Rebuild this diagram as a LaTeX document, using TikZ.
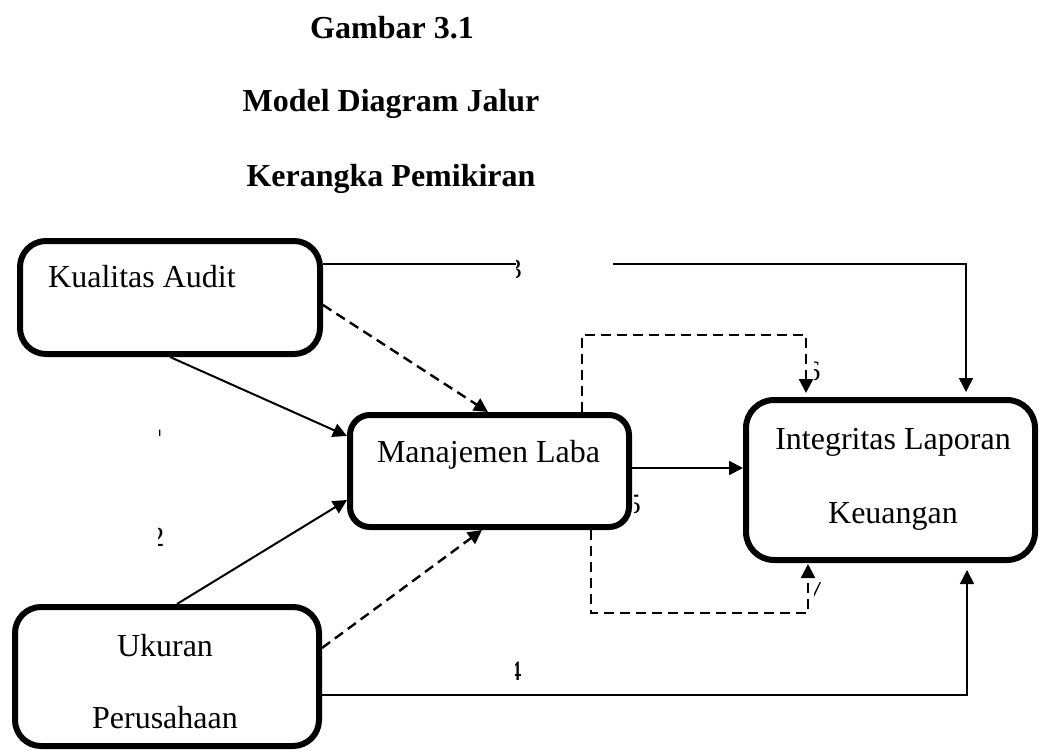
\documentclass[tikz,border=0pt]{standalone}
\usepackage{fontspec}
\setmainfont{Liberation Serif}
\usetikzlibrary{arrows.meta,calc}
\begin{document}
\begin{tikzpicture}[x=1pt,y=-1pt,
  box/.style={draw, line width=6pt, rounded corners=#1, inner sep=0pt},
  txt/.style={inner sep=0pt, font=\fontsize{32}{38}\selectfont},
  ttl/.style={inner sep=0pt, font=\fontsize{32}{38}\selectfont\bfseries},
  frag/.style={inner sep=0pt, font=\fontsize{28}{28}\selectfont},
  tip/.style={-{Triangle[length=14pt,width=14pt]}},
  conn/.style={tip, line width=2pt},
  lconn/.style={tip, line width=1.6pt, line join=miter},
  dconn/.style={tip, line width=2.4pt, dash pattern=on 10pt off 6pt, line join=miter},
  labbox/.style={fill=white, inner sep=0pt}]
\useasboundingbox (0,0) rectangle (1040,751);

% titles
\node[ttl, anchor=base] (t1) at (392,39) {Gambar 3.1};
\node[ttl, anchor=base] (t2) at (391,112) {Model Diagram Jalur};
\node[ttl, anchor=base] (t3) at (391,187) {Kerangka Pemikiran};

% boxes
\node[box=26pt, minimum width=300pt, minimum height=113pt] (kua) at (170,297.5) {};
\node[box=20pt, minimum width=279pt, minimum height=112pt] (man) at (489.5,471) {};
\node[box=28pt, minimum width=289pt, minimum height=160pt] (ilk) at (890.5,480) {};
\node[box=26pt, minimum width=304pt, minimum height=139pt] (uku) at (167,676.5) {};

% box texts
\node[txt, anchor=base west] (kuat) at (48,287) {Kualitas Audit};
\node[txt, anchor=base] (mant) at (488.5,462) {Manajemen Laba};
\node[txt, anchor=base] (ilkt1) at (893,449) {Integritas Laporan};
\node[txt, anchor=base] (ilkt2) at (893,523) {Keuangan};
\node[txt, anchor=base] (ukut1) at (165,656) {Ukuran};
\node[txt, anchor=base] (ukut2) at (165,728) {Perusahaan};

% connectors
\draw[lconn, shorten >=5pt] ($(kua.north east)+(0,26)$) -| ($(ilk.north)+(75.5,0)$);
\draw[conn] (kua.south) -- ($(man.north west)+(0,24)$);
\draw[dconn] ($(kua.north east)+(0,67)$) -- ($(man.north west)+(141,0)$);
\draw[conn] ($(uku.north)+(10,0)$) -- ($(man.south west)+(0,-30)$);
\draw[dconn] ($(uku.north east)+(0,44)$) -- ($(man.south west)+(135,0)$);
\coordinate (m6) at ($(man.east)+(0,-3)$);
\draw[conn] (m6) -- (m6 -| ilk.west);
\draw[dconn, shorten >=4pt] ($(man.north west)+(235,0)$) |- ($(ilk.north west)+(63,-62)$) -- ($(ilk.north west)+(63,0)$);
\draw[dconn, shorten >=1pt] ($(man.south west)+(244,0)$) |- ($(ilk.south west)+(65,50)$) -- ($(ilk.south west)+(65,0)$);
\draw[lconn, shorten >=7pt] ($(uku.north east)+(0,91)$) -| ($(ilk.south west)+(224,0)$);

% label box over the top connector
\node[labbox, minimum width=97pt, minimum height=14pt] (l3) at (564.5,264) {};

% clipped label fragments
\begin{scope}
  \clip (516,255) rectangle (524,282);
  \node[frag, anchor=base east] (f3) at (522,278) {3};
\end{scope}
\begin{scope}
  \clip (159,429) rectangle (164,435);
  \node[frag, anchor=north east] (f1) at (166,430) {1};
\end{scope}
\begin{scope}
  \clip (158,526) rectangle (164,548);
  \node[frag, anchor=north east] (f2) at (164.5,528) {2};
\end{scope}
\begin{scope}
  \clip (634,490) rectangle (641,515);
  \node[frag, anchor=base east] (f5) at (641,513) {5};
\end{scope}
\begin{scope}
  \clip (814,355) rectangle (820,382);
  \node[frag, anchor=base east] (f6) at (820.5,380) {6};
\end{scope}
\begin{scope}
  \clip (814,582) rectangle (821,598);
  \node[frag, anchor=base west] (f7) at (809,597) {7};
\end{scope}
\begin{scope}
  \clip (515,655) rectangle (520.5,682);
  \node[frag, anchor=base west] (f4) at (507.6,680) {4};
\end{scope}
\end{tikzpicture}
\end{document}
